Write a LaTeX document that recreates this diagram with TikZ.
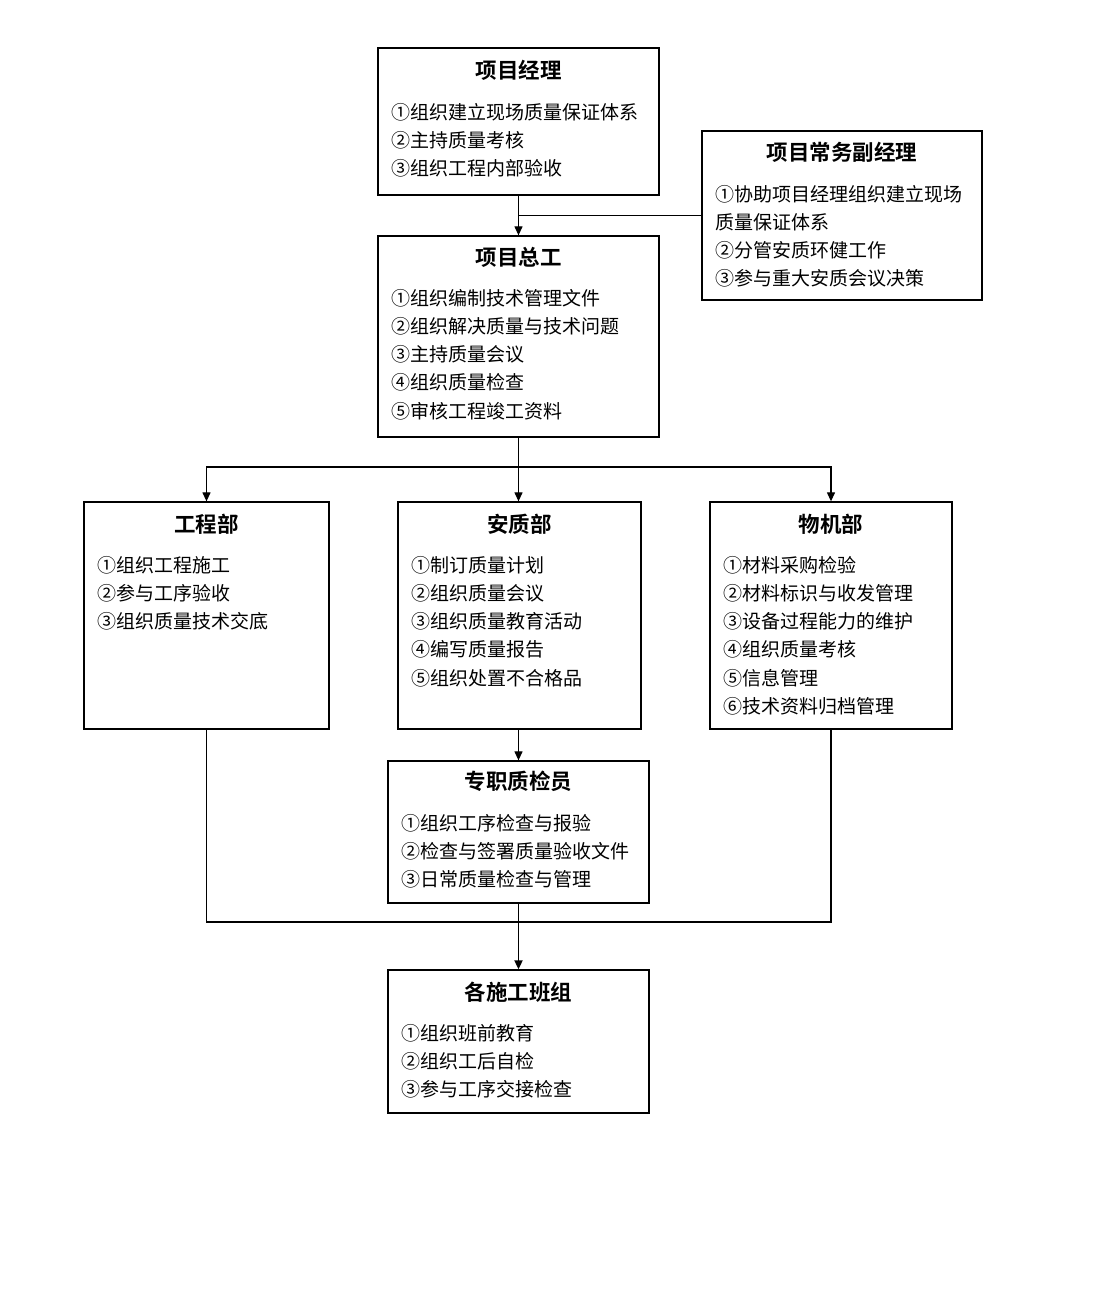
\documentclass[tikz,border=0pt]{standalone}
\usepackage{fontspec}
\setmainfont{Noto Sans CJK SC}
\newfontfamily\cjkb{Noto Sans CJK SC Bold}
\usetikzlibrary{arrows.meta}
\begin{document}
\begin{tikzpicture}[x=1pt,y=-1pt,
  boxnode/.style={draw=black, line width=1.3pt, inner sep=0pt, fill=white},
  titlenode/.style={font=\cjkb\fontsize{21.5}{24}\selectfont, inner sep=0pt},
  itemnode/.style={font=\fontsize{19}{22}\selectfont, inner sep=0pt, anchor=west},
  conn/.style={draw=black, line width=1.2pt},
  arr/.style={conn, -{Triangle[length=9pt,width=8pt]}}]
\fill[white] (0,0) rectangle (1095,1310);
\useasboundingbox (0,0) rectangle (1095,1310);
% boxes
\node[boxnode, minimum width=281, minimum height=147] (pm) at (518.5,121.5) {};
\node[boxnode, minimum width=280, minimum height=169] (dep) at (842,215.5) {};
\node[boxnode, minimum width=281, minimum height=201] (chief) at (518.5,336.5) {};
\node[boxnode, minimum width=245, minimum height=227] (eng) at (206.5,615.5) {};
\node[boxnode, minimum width=243, minimum height=227] (saf) at (519.5,615.5) {};
\node[boxnode, minimum width=242, minimum height=227] (mat) at (831,615.5) {};
\node[boxnode, minimum width=261, minimum height=142] (insp) at (518.5,832) {};
\node[boxnode, minimum width=261, minimum height=143] (crew) at (518.5,1041.5) {};
% titles
\node[titlenode] (pm-t) at (518.5,70) {项目经理};
\node[titlenode] (dep-t) at (842,152) {项目常务副经理};
\node[titlenode] (chief-t) at (518.5,257) {项目总工};
\node[titlenode] (eng-t) at (206.5,524) {工程部};
\node[titlenode] (saf-t) at (519.5,524) {安质部};
\node[titlenode] (mat-t) at (831,524) {物机部};
\node[titlenode] (insp-t) at (518.5,781) {专职质检员};
\node[titlenode] (crew-t) at (518.5,992) {各施工班组};
% items
\foreach \t [count=\i] in {①组织建立现场质量保证体系,②主持质量考核,③组织工程内部验收}
  \node[itemnode] (pm-\i) at (391,{112+(\i-1)*28.2}) {\t};
\foreach \t [count=\i] in {①协助项目经理组织建立现场,质量保证体系,②分管安质环健工作,③参与重大安质会议决策}
  \node[itemnode] (dep-\i) at (715,{194+(\i-1)*28.2}) {\t};
\foreach \t [count=\i] in {①组织编制技术管理文件,②组织解决质量与技术问题,③主持质量会议,④组织质量检查,⑤审核工程竣工资料}
  \node[itemnode] (chief-\i) at (391,{298+(\i-1)*28.2}) {\t};
\foreach \t [count=\i] in {①组织工程施工,②参与工序验收,③组织质量技术交底}
  \node[itemnode] (eng-\i) at (97,{565+(\i-1)*28.2}) {\t};
\foreach \t [count=\i] in {①制订质量计划,②组织质量会议,③组织质量教育活动,④编写质量报告,⑤组织处置不合格品}
  \node[itemnode] (saf-\i) at (411,{565+(\i-1)*28.2}) {\t};
\foreach \t [count=\i] in {①材料采购检验,②材料标识与收发管理,③设备过程能力的维护,④组织质量考核,⑤信息管理,⑥技术资料归档管理}
  \node[itemnode] (mat-\i) at (723,{565+(\i-1)*28.2}) {\t};
\foreach \t [count=\i] in {①组织工序检查与报验,②检查与签署质量验收文件,③日常质量检查与管理}
  \node[itemnode] (insp-\i) at (401,{823+(\i-1)*28.2}) {\t};
\foreach \t [count=\i] in {①组织班前教育,②组织工后自检,③参与工序交接检查}
  \node[itemnode] (crew-\i) at (401,{1033+(\i-1)*28.2}) {\t};
% connectors
\coordinate (split) at (518.5,467);
\coordinate (merge) at (518.5,922);
\draw[arr] (pm.south) -- (chief.north);
\draw[conn] (dep.west) -- (dep.west -| pm.south);
\draw[conn] (chief.south) -- (split);
\draw[arr] (split) -| (eng.north);
\draw[arr] (split) -| (mat.north);
\draw[arr] (split) -- (saf.north -| split);
\draw[arr] (saf.south -| split) -- (insp.north);
\draw[conn] (eng.south) |- (merge) -| (mat.south);
\draw[conn] (insp.south) -- (merge);
\draw[arr, line width=1.8pt] (merge) -- (crew.north);
\end{tikzpicture}
\end{document}
